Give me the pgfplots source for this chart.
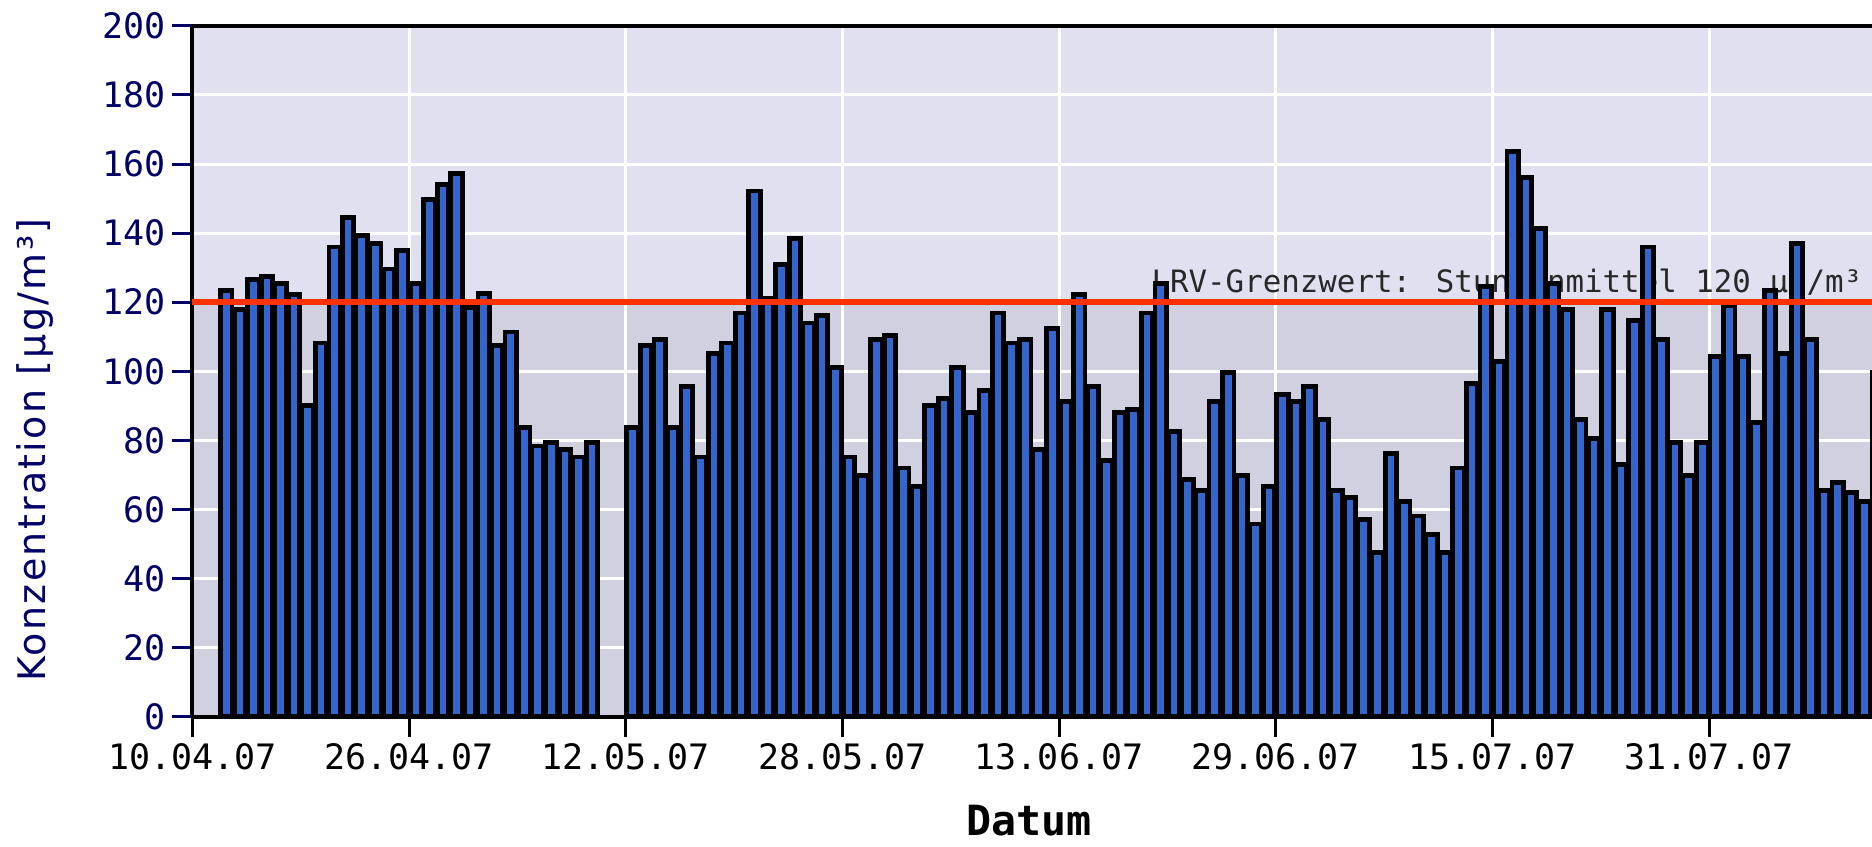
\documentclass[border=0pt]{standalone}
\usepackage{pgfplots}
\pgfplotsset{compat=1.18}
\usepackage{fontspec}
\setmainfont{DejaVu Sans Mono}
\newfontfamily\labelfont[LetterSpace=6]{DejaVu Sans}

\definecolor{barblue}{RGB}{51,102,204}
\definecolor{topband}{RGB}{224,224,240}
\definecolor{lowband}{RGB}{208,208,224}
\definecolor{redline}{RGB}{255,51,0}
\definecolor{navy}{RGB}{0,0,102}
\definecolor{textgray}{RGB}{40,40,40}

% daily values, x = days after 10.04.07 (bar centre)
\pgfplotstableread{
x y
2.5 123.3
3.5 118
4.5 126.5
5.5 127.4
6.5 125.4
7.5 122.2
8.5 90.2
9.5 108.2
10.5 136
11.5 144.5
12.5 139.3
13.5 137
14.5 129.6
15.5 134.9
16.5 125.4
17.5 149.7
18.5 154
19.5 157.2
20.5 118.5
21.5 122.5
22.5 107.4
23.5 111.4
24.5 83.8
25.5 78.4
26.5 79.5
27.5 77.4
28.5 75.2
29.5 79.5
32.5 83.8
33.5 107.4
34.5 109.3
35.5 83.8
36.5 95.5
37.5 75.2
38.5 105.2
39.5 108.2
40.5 116.9
41.5 152.2
42.5 121
43.5 130.9
44.5 138.5
45.5 114
46.5 116.1
47.5 101.2
48.5 75.2
49.5 69.8
50.5 109.3
51.5 110.4
52.5 72
53.5 66.6
54.5 90.1
55.5 92.2
56.5 101.2
57.5 88.1
58.5 94.4
59.5 116.9
60.5 108.2
61.5 109.3
62.5 77.3
63.5 112.5
64.5 91.3
65.5 122.2
66.5 95.5
67.5 74.1
68.5 88.1
69.5 89
70.5 116.9
71.5 125.4
72.5 82.6
73.5 68.7
74.5 65.5
75.5 91.2
76.5 99.7
77.5 69.8
78.5 55.8
79.5 66.6
80.5 93.3
81.5 91.2
82.5 95.5
83.5 86
84.5 65.5
85.5 63.5
86.5 57
87.5 47.5
88.5 76.2
89.5 62.3
90.5 58.1
91.5 52.8
92.5 47.5
93.5 72
94.5 96.5
95.5 124.5
96.5 102.9
97.5 163.6
98.5 156
99.5 141.3
100.5 125.4
101.5 117.8
102.5 86
103.5 80.6
104.5 117.8
105.5 73
106.5 114.6
107.5 136
108.5 109.3
109.5 79.5
110.5 69.8
111.5 79.5
112.5 104.2
113.5 119
114.5 104.2
115.5 85.2
116.5 123.3
117.5 105.1
118.5 137.1
119.5 109.3
120.5 65.5
121.5 67.8
122.5 64.8
123.5 62.3
124.5 99.7
}\ozon

\begin{document}
\begin{tikzpicture}
\begin{axis}[
    at={(0,0)}, anchor=south west,
    set layers,
    width=839.75pt, height=345.4pt, scale only axis,
    xmin=0, xmax=124.04, ymin=0, ymax=200,
    clip=false,
    axis x line*=bottom, axis y line*=left,
    axis line style={-, line width=2pt, black},
    xtick={0,16,...,112},
    xticklabels={10.04.07,26.04.07,12.05.07,28.05.07,13.06.07,29.06.07,15.07.07,31.07.07},
    ytick={0,20,...,200},
    grid=major,
    major grid style={white, line width=1.5pt},
    tick align=outside,
    major tick length=10pt,
    x tick style={black, line width=1.5pt},
    y tick style={navy, line width=1.5pt},
    tick label style={font=\fontsize{17.5}{21}\selectfont},
    yticklabel style={navy},
    /pgf/number format/assume math mode=true,
    xlabel={Datum},
    xlabel style={font=\bfseries\fontsize{20.8}{24}\selectfont,
        at={(axis description cs:0.498,-0.150)}, anchor=center},
    ylabel={Konzentration [µg/m³]},
    ylabel style={font=\labelfont\fontsize{19}{22}\selectfont, text=navy,
        at={(axis description cs:-0.0935,0.386)}, anchor=center},
]
\addplot[on layer=axis background, draw=none, fill=topband, forget plot]
    coordinates {(0,200) (124.04,200)} \closedcycle;
\addplot[on layer=axis background, draw=none, fill=lowband, forget plot]
    coordinates {(0,120) (124.04,120)} \closedcycle;

\node[anchor=base west, inner sep=0pt, text=textgray,
      font=\fontsize{15.4}{18}\selectfont]
    at (axis cs:70.8,122.8) {LRV-Grenzwert: Stundenmittel 120 µg/m³};

\addplot[ybar, bar width=0.84, fill=barblue, draw=black, line width=2.4pt]
    table[x=x, y=y] {\ozon};

\addplot[draw=redline, line width=3pt, forget plot]
    coordinates {(0,120) (124.04,120)};

\draw[line width=2pt] (rel axis cs:0,1) -- (rel axis cs:1,1);
\end{axis}
\pgfresetboundingbox
\useasboundingbox (-96.25pt,-64.65pt) rectangle (839.75pt,358.35pt);
\end{tikzpicture}
\end{document}
